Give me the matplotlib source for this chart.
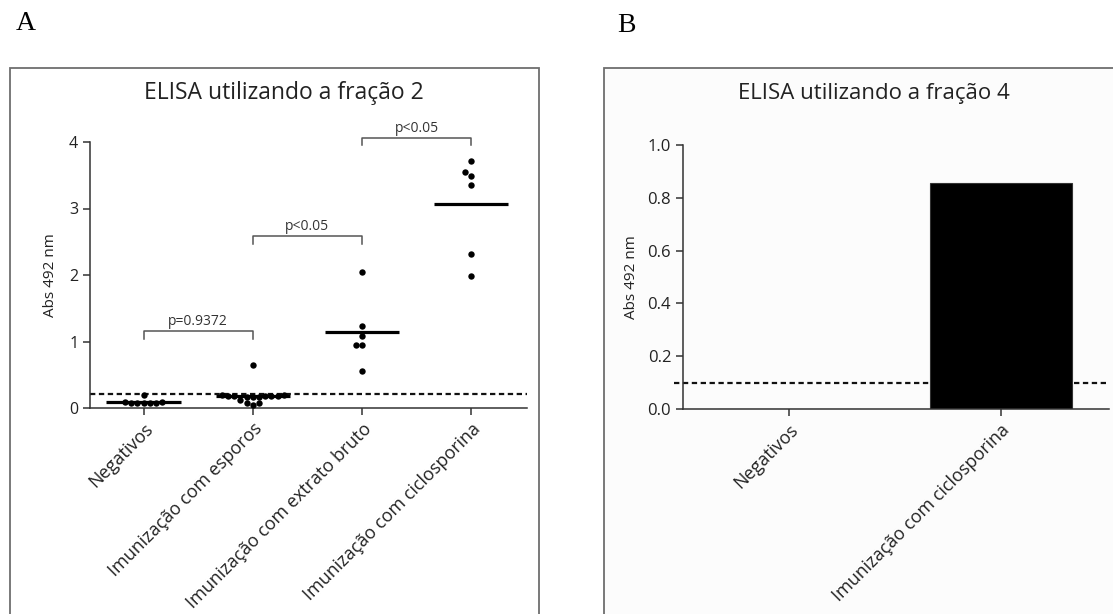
import numpy as np
import matplotlib
matplotlib.use("Agg")
import matplotlib.pyplot as plt
from matplotlib.patches import Rectangle

plt.rcParams["font.family"] = ["Open Sans", "DejaVu Sans"]

# Panel A data (ELISA, fraction 2)
groups_a = ["Negativos", "Imunização com esporos",
            "Imunização com extrato bruto", "Imunização com ciclosporina"]
negativos = [0.19, 0.09, 0.08, 0.08, 0.07, 0.07, 0.08, 0.09]
esporos = [0.65, 0.05, 0.07, 0.07, 0.12,
           0.18, 0.17, 0.18, 0.19, 0.17, 0.18, 0.18, 0.17, 0.19, 0.18]
extrato = [2.05, 1.24, 1.08, 0.95, 0.94, 0.56]
ciclosporina = [3.71, 3.55, 3.49, 3.35, 2.32, 1.98]
cutoff_a = 0.215
pvals_a = ["p=0.9372", "p<0.05", "p<0.05"]

# Panel B data (ELISA, fraction 4)
groups_b = ["Negativos", "Imunização com ciclosporina"]
values_b = [0.0, 0.856]
cutoff_b = 0.098

TXT = "#222222"
AX = "#333333"
W, H = 1113, 614


def swarm(vals, d, ypx, dot=6.0):
    vals = np.asarray(vals)
    offs = np.zeros(len(vals))
    placed = []
    for i in np.argsort(vals, kind="stable"):
        for k in [0, -1, 1, -2, 2, -3, 3, -4, 4, -5, 5, -6, 6]:
            ok = True
            for j in placed:
                if abs(vals[i] - vals[j]) * ypx < dot and abs(k * d - offs[j]) < 0.9 * d:
                    ok = False
                    break
            if ok:
                offs[i] = k * d
                break
        placed.append(i)
    return offs


def style_axes(ax):
    for s in ["top", "right"]:
        ax.spines[s].set_visible(False)
    for s in ["left", "bottom"]:
        ax.spines[s].set_color(AX)
        ax.spines[s].set_linewidth(1.1)
    ax.tick_params(axis="both", colors=AX, length=5, width=1.1, labelcolor=TXT)
    ax.set_facecolor("none")


fig = plt.figure(figsize=(W / 100, H / 100), dpi=100)

# panel frames
fig.patches.append(Rectangle((10 / W, -0.05), 529 / W, 1.05 - 68 / H,
                             transform=fig.transFigure, fill=False,
                             edgecolor="#6e6e6e", linewidth=1.3, zorder=-1))
fig.patches.append(Rectangle((604 / W, -0.05), 0.5, 1.05 - 68 / H,
                             transform=fig.transFigure, facecolor="#fcfcfc",
                             edgecolor="#6e6e6e", linewidth=1.3, zorder=-1))

fig.text(26 / W, 1 - 23 / H, "A", family="Liberation Serif", fontsize=20,
         ha="center", va="center", color="black")
fig.text(626 / W, 1 - 25 / H, "B", family="Liberation Serif", fontsize=20,
         ha="center", va="center", color="black")

fig.text(284 / W, 1 - 93 / H, "ELISA utilizando a fração 2", fontsize=16.5,
         ha="center", va="center", color=TXT)
fig.text(874 / W, 1 - 93 / H, "ELISA utilizando a fração 4", fontsize=16,
         ha="center", va="center", color=TXT)

# ---------- Panel A ----------
axa = fig.add_axes([90 / W, 206 / H, 437 / W, 266 / H])
style_axes(axa)
axa.set_xlim(-0.49, 3.51)
axa.set_ylim(0, 4)
ypx_a = 266 / 4
xpx_a = 437 / 4.0
d_a = 6.2 / xpx_a

axa.axhline(cutoff_a, color="#111111", lw=1.6, dashes=(2.4, 1.6), zorder=1)
for i, vals in enumerate([negativos, esporos, extrato, ciclosporina]):
    offs = swarm(vals, d_a, ypx_a)
    m = np.mean(vals)
    axa.hlines(m, i - 0.34, i + 0.34, color="black", lw=2.3, zorder=2)
    axa.plot(i + offs, vals, "o", color="black", ms=4.6, mec="none", zorder=3,
             clip_on=False)

axa.set_xticks(range(len(groups_a)))
axa.set_xticklabels(groups_a, rotation=45, ha="right", va="top",
                    rotation_mode="anchor", fontsize=13, color=TXT)
axa.set_yticks([0, 1, 2, 3, 4])
axa.tick_params(axis="y", labelsize=11.5)
axa.set_ylabel("Abs 492 nm", fontsize=11, color=TXT, labelpad=8)


def bracket(ax, x1, x2, y, h, label):
    ax.plot([x1, x1, x2, x2], [y - h, y, y, y - h], color="#555555", lw=1.1,
            clip_on=False)
    ax.text((x1 + x2) / 2, y + 0.03, label, ha="center", va="bottom",
            fontsize=10, color="#333333", clip_on=False)


bracket(axa, 0, 1, 1.16, 0.12, pvals_a[0])
bracket(axa, 1, 2, 2.58, 0.11, pvals_a[1])
bracket(axa, 2, 3, 4.06, 0.11, pvals_a[2])

# ---------- Panel B ----------
axb = fig.add_axes([683 / W, 205 / H, 426 / W, 264 / H])
style_axes(axb)
axb.set_xlim(-0.5, 1.51)
axb.set_ylim(0, 1.0)
axb.axhline(cutoff_b, xmin=-0.02, color="#111111", lw=1.6, dashes=(2.4, 1.6),
            zorder=1, clip_on=False)
axb.bar(range(len(groups_b)), values_b, width=0.67, color="black",
        edgecolor="#333333", lw=0.8, zorder=2)
axb.set_xticks(range(len(groups_b)))
axb.set_xticklabels(groups_b, rotation=45, ha="right", va="top",
                    rotation_mode="anchor", fontsize=13, color=TXT)
axb.set_yticks([0.0, 0.2, 0.4, 0.6, 0.8, 1.0])
axb.set_yticklabels(["0.0", "0.2", "0.4", "0.6", "0.8", "1.0"])
axb.tick_params(axis="y", labelsize=12)
axb.set_ylabel("Abs 492 nm", fontsize=11, color=TXT, labelpad=6)

fig.savefig("out.png", dpi=100)
